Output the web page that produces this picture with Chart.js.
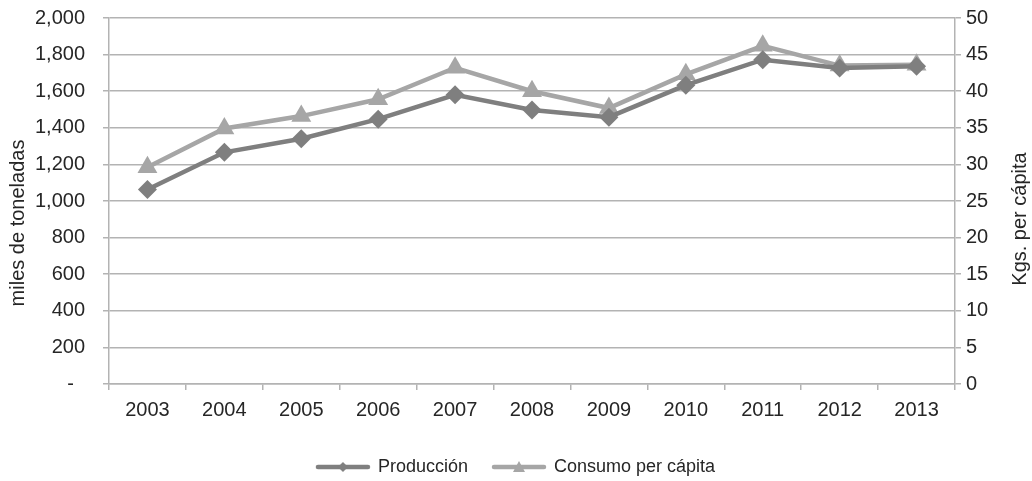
<!DOCTYPE html>
<html>
<head>
<meta charset="utf-8">
<script src="https://cdn.jsdelivr.net/npm/chart.js@4/dist/chart.umd.min.js"></script>
<style>
  html, body { margin: 0; padding: 0; background: #fff; }
  #wrap { width: 1032px; height: 481px; position: relative; }
</style>
</head>
<body>
<div id="wrap"><canvas id="chart"></canvas></div>
<script>
// Data
const years = ['2003', '2004', '2005', '2006', '2007', '2008', '2009', '2010', '2011', '2012', '2013'];
const produccion = [1063, 1266, 1340, 1447, 1580, 1497, 1458, 1633, 1772, 1727, 1737];
const consumo = [29.6, 34.9, 36.6, 38.9, 43.2, 40.0, 37.7, 42.3, 46.2, 43.5, 43.6];
const leftTicks = [0, 200, 400, 600, 800, 1000, 1200, 1400, 1600, 1800, 2000];

const darkGrey = '#7f7f7f';
const lightGrey = '#a6a6a6';
const gridColor = '#b3b3b3';
const textColor = '#262626';
const fontFamily = '"Liberation Sans", Arial, sans-serif';

// little legend sample: line with marker in the middle
function legendSample(color, style) {
    const c = document.createElement('canvas');
    c.width = 56; c.height = 14;
    const g = c.getContext('2d');
    g.strokeStyle = color;
    g.lineWidth = 4.5;
    g.lineCap = 'round';
    g.beginPath();
    g.moveTo(3, 7); g.lineTo(53, 7);
    g.stroke();
    g.fillStyle = color;
    g.beginPath();
    if (style === 'rectRot') {
        g.moveTo(28, 2); g.lineTo(33, 7); g.lineTo(28, 12); g.lineTo(23, 7);
    } else {
        g.moveTo(28, 1); g.lineTo(34, 12); g.lineTo(22, 12);
    }
    g.closePath();
    g.fill();
    return c;
}

// axis titles drawn reading bottom-to-top on both sides (like the original)
const axisTitles = {
    id: 'axisTitles',
    afterDraw(chart) {
        const c = chart.ctx;
        const mid = (chart.chartArea.top + chart.chartArea.bottom) / 2 + 22;
        c.save();
        c.fillStyle = textColor;
        c.font = '20px ' + fontFamily;
        c.textAlign = 'center';
        c.textBaseline = 'middle';
        c.translate(18, mid);
        c.rotate(-Math.PI / 2);
        c.fillText('miles de toneladas', 0, 0);
        c.restore();
        c.save();
        c.fillStyle = textColor;
        c.font = '20px ' + fontFamily;
        c.textAlign = 'center';
        c.textBaseline = 'middle';
        c.translate(1020, mid - 4);
        c.rotate(-Math.PI / 2);
        c.fillText('Kgs. per cápita', 0, 0);
        c.restore();
    }
};

const ctx = document.getElementById('chart').getContext('2d');
const chart = new Chart(ctx, {
    type: 'line',
    data: {
        labels: years,
        datasets: [{
            label: 'Producción',
            data: produccion,
            yAxisID: 'y',
            borderColor: darkGrey,
            backgroundColor: darkGrey,
            borderWidth: 4.5,
            pointStyle: 'rectRot',
            pointRadius: 9.5,
            pointBorderWidth: 0,
            pointHoverRadius: 9.5,
            tension: 0
        }, {
            label: 'Consumo per cápita',
            data: consumo,
            yAxisID: 'y1',
            borderColor: lightGrey,
            backgroundColor: lightGrey,
            borderWidth: 4.5,
            pointStyle: 'triangle',
            pointRadius: 11.5,
            pointBorderWidth: 0,
            pointHoverRadius: 11.5,
            tension: 0
        }]
    },
    plugins: [axisTitles],
    options: {
        responsive: true,
        maintainAspectRatio: false,
        animation: false,
        layout: { padding: { top: 18, left: 0, right: 0, bottom: -5 } },
        plugins: {
            tooltip: { enabled: false },
            legend: {
                position: 'bottom',
                labels: {
                    color: textColor,
                    font: { family: fontFamily, size: 18 },
                    usePointStyle: true,
                    pointStyleWidth: 52,
                    padding: 25,
                    generateLabels: function (chart) {
                        return chart.data.datasets.map((ds, i) => ({
                            text: ds.label,
                            fillStyle: ds.borderColor,
                            strokeStyle: ds.borderColor,
                            pointStyle: legendSample(ds.borderColor, ds.pointStyle),
                            datasetIndex: i,
                            fontColor: textColor
                        }));
                    }
                }
            }
        },
        scales: {
            x: {
                offset: true,
                grid: {
                    offset: true,
                    drawOnChartArea: false,
                    drawTicks: true,
                    tickLength: 6,
                    color: gridColor,
                    lineWidth: 1.5
                },
                border: { color: gridColor, width: 1.5 },
                ticks: {
                    color: textColor,
                    font: { family: fontFamily, size: 20 },
                    padding: 8,
                    maxRotation: 0
                },
                afterFit: s => { s.height = 49; }
            },
            y: {
                position: 'left',
                min: 0,
                max: 2000,
                afterBuildTicks: s => { s.ticks = leftTicks.map(v => ({ value: v })); },
                grid: { color: gridColor, tickLength: 6, lineWidth: 1.5 },
                border: { color: gridColor, width: 1.5 },
                ticks: {
                    color: textColor,
                    font: { family: fontFamily, size: 20 },
                    padding: 18,
                    callback: v => v === 0 ? '-  ' : v.toLocaleString('en-US')
                },
                afterFit: s => { s.width = 109; s.paddingTop = 0; s.paddingBottom = 0; }
            },
            y1: {
                position: 'right',
                min: 0,
                max: 50,
                grid: { drawOnChartArea: false, color: gridColor, tickLength: 6, lineWidth: 1.5 },
                border: { color: gridColor, width: 1.5 },
                ticks: {
                    stepSize: 5,
                    color: textColor,
                    font: { family: fontFamily, size: 20 },
                    padding: 5
                },
                afterFit: s => { s.width = 77; s.paddingTop = 0; s.paddingBottom = 0; }
            }
        }
    }
});
</script>
</body>
</html>
